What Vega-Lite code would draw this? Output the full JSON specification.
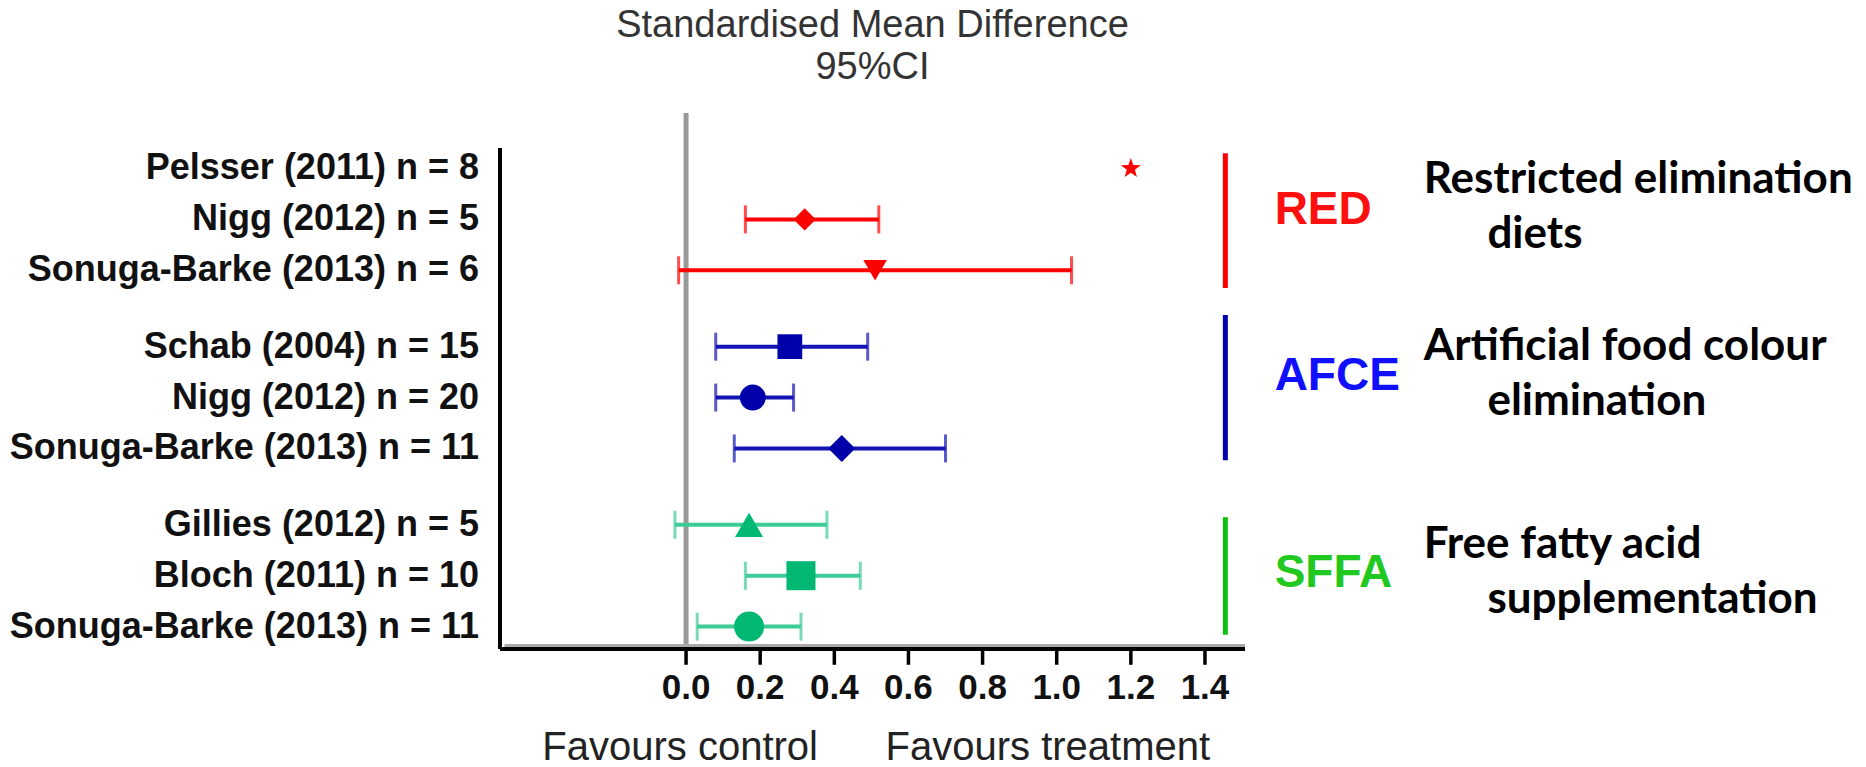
{
  "$schema": "https://vega.github.io/schema/vega-lite/v6.json",
  "width": 745,
  "height": 536,
  "autosize": {"type": "none"},
  "padding": {"left": 500, "top": 113, "right": 621, "bottom": 118},
  "background": "white",
  "config": {"view": {"stroke": null}, "font": "Liberation Sans"},
  "title": {
    "text": ["Standardised Mean Difference", "95%CI"],
    "fontSize": 38,
    "font": "Liberation Sans",
    "fontWeight": "normal",
    "color": "#333333",
    "lineHeight": 42,
    "anchor": "middle",
    "offset": 24
  },
  "datasets": {
    "studies": [
      {"study": "Pelsser (2011) n = 8", "group": "RED", "row": 1, "smd": 1.2, "lo": null, "hi": null},
      {"study": "Nigg (2012) n = 5", "group": "RED", "row": 2, "smd": 0.32, "lo": 0.16, "hi": 0.52},
      {"study": "Sonuga-Barke (2013) n = 6", "group": "RED", "row": 3, "smd": 0.51, "lo": -0.02, "hi": 1.04},
      {"study": "Schab (2004) n = 15", "group": "AFCE", "row": 4.5, "smd": 0.28, "lo": 0.08, "hi": 0.49},
      {"study": "Nigg (2012) n = 20", "group": "AFCE", "row": 5.5, "smd": 0.18, "lo": 0.08, "hi": 0.29},
      {"study": "Sonuga-Barke (2013) n = 11", "group": "AFCE", "row": 6.5, "smd": 0.42, "lo": 0.13, "hi": 0.70},
      {"study": "Gillies (2012) n = 5", "group": "SFFA", "row": 8, "smd": 0.17, "lo": -0.03, "hi": 0.38},
      {"study": "Bloch (2011) n = 10", "group": "SFFA", "row": 9, "smd": 0.31, "lo": 0.16, "hi": 0.47},
      {"study": "Sonuga-Barke (2013) n = 11", "group": "SFFA", "row": 10, "smd": 0.17, "lo": 0.03, "hi": 0.31}
    ],
    "groups": [
      {"group": "RED", "top": 0.7, "bottom": 3.35, "label_row": 1.82},
      {"group": "AFCE", "top": 3.88, "bottom": 6.73, "label_row": 5.08},
      {"group": "SFFA", "top": 7.85, "bottom": 10.16, "label_row": 8.94}
    ],
    "desc": [
      {"group": "RED", "line": 1, "text": "Restricted elimination", "row": 1.49},
      {"group": "RED", "line": 2, "text": "diets", "row": 2.56},
      {"group": "AFCE", "line": 1, "text": "Artificial food colour", "row": 4.76},
      {"group": "AFCE", "line": 2, "text": "elimination", "row": 5.84},
      {"group": "SFFA", "line": 1, "text": "Free fatty acid", "row": 8.65},
      {"group": "SFFA", "line": 2, "text": "supplementation", "row": 9.73}
    ],
    "ticks": [{"v": 0}, {"v": 0.2}, {"v": 0.4}, {"v": 0.6}, {"v": 0.8}, {"v": 1.0}, {"v": 1.2}, {"v": 1.4}],
    "one": [{}]
  },
  "resolve": {"scale": {"color": "independent"}},
  "layer": [
    {
      "data": {"name": "one"},
      "mark": {"type": "rule", "color": "#999999", "strokeWidth": 5},
      "encoding": {
        "x": {"datum": 0, "type": "quantitative", "scale": {"domain": [-0.502, 1.508], "nice": false, "zero": false}, "axis": null}
      }
    },
    {
      "data": {"name": "one"},
      "mark": {"type": "rule", "color": "black", "strokeWidth": 4},
      "encoding": {
        "x": {"datum": -0.502, "type": "quantitative", "axis": null},
        "y": {"datum": 0.6, "type": "quantitative", "scale": {"domain": [-0.09, 10.44], "reverse": true, "nice": false, "zero": false}, "axis": null},
        "y2": {"datum": 10.44}
      }
    },
    {
      "data": {"name": "one"},
      "mark": {"type": "rule", "color": "#aaaaaa", "strokeWidth": 3},
      "encoding": {
        "x": {"datum": -0.49, "type": "quantitative", "axis": null},
        "x2": {"datum": 1.508},
        "y": {"datum": 10.37, "type": "quantitative", "axis": null}
      }
    },
    {
      "data": {"name": "one"},
      "mark": {"type": "rule", "color": "black", "strokeWidth": 4},
      "encoding": {
        "x": {"datum": -0.502, "type": "quantitative", "axis": null},
        "x2": {"datum": 1.508},
        "y": {"datum": 10.44, "type": "quantitative", "axis": null}
      }
    },
    {
      "data": {"name": "ticks"},
      "mark": {"type": "rule", "color": "black", "strokeWidth": 3.5},
      "encoding": {
        "x": {"field": "v", "type": "quantitative", "axis": null},
        "y": {"datum": 10.44, "type": "quantitative", "axis": null},
        "y2": {"datum": 10.75}
      }
    },
    {
      "data": {"name": "ticks"},
      "mark": {"type": "text", "align": "center", "baseline": "middle", "font": "Liberation Sans", "fontWeight": "bold", "fontSize": 35, "color": "#111111"},
      "encoding": {
        "x": {"field": "v", "type": "quantitative", "axis": null},
        "y": {"datum": 11.21, "type": "quantitative", "axis": null},
        "text": {"field": "v", "type": "quantitative", "format": ".1f"}
      }
    },
    {
      "data": {"name": "studies"},
      "transform": [{"filter": "isValid(datum.lo)"}],
      "mark": {"type": "rule", "strokeWidth": 4},
      "encoding": {
        "x": {"field": "lo", "type": "quantitative", "axis": null},
        "x2": {"field": "hi"},
        "y": {"field": "row", "type": "quantitative", "axis": null},
        "color": {"field": "group", "type": "nominal", "scale": {"domain": ["RED", "AFCE", "SFFA"], "range": ["#ff0000", "#1414b4", "#3dcc95"]}, "legend": null}
      }
    },
    {
      "data": {"name": "studies"},
      "transform": [{"filter": "isValid(datum.lo)"}, {"fold": ["lo", "hi"], "as": ["end", "val"]}],
      "mark": {"type": "tick", "orient": "vertical", "thickness": 3, "size": 28},
      "encoding": {
        "x": {"field": "val", "type": "quantitative", "axis": null},
        "y": {"field": "row", "type": "quantitative", "axis": null},
        "color": {"field": "group", "type": "nominal", "scale": {"domain": ["RED", "AFCE", "SFFA"], "range": ["#ff0000", "#1414b4", "#3dcc95"]}, "legend": null}
      }
    },
    {
      "data": {"name": "studies"},
      "mark": {"type": "point", "filled": true, "opacity": 1},
      "encoding": {
        "x": {"field": "smd", "type": "quantitative", "axis": null},
        "y": {"field": "row", "type": "quantitative", "axis": null},
        "shape": {"field": "row", "type": "nominal", "scale": {"domain": [1, 2, 3, 4.5, 5.5, 6.5, 8, 9, 10], "range": ["M0,-1L0.235,-0.324L0.951,-0.309L0.38,0.124L0.588,0.809L0,0.4L-0.588,0.809L-0.38,0.124L-0.951,-0.309L-0.235,-0.324Z", "diamond", "triangle-down", "square", "circle", "diamond", "triangle-up", "square", "circle"]}, "legend": null},
        "size": {"field": "row", "type": "nominal", "scale": {"domain": [1, 2, 3, 4.5, 5.5, 6.5, 8, 9, 10], "range": [440, 900, 800, 810, 700, 600, 560, 450, 480]}, "legend": null},
        "color": {"field": "group", "type": "nominal", "scale": {"domain": ["RED", "AFCE", "SFFA"], "range": ["#ff0000", "#0000aa", "#00b872"]}, "legend": null}
      }
    },
    {
      "data": {"name": "groups"},
      "mark": {"type": "rule", "strokeWidth": 5},
      "encoding": {
        "x": {"datum": 1.455, "type": "quantitative", "axis": null},
        "y": {"field": "top", "type": "quantitative", "axis": null},
        "y2": {"field": "bottom"},
        "color": {"field": "group", "type": "nominal", "scale": {"domain": ["RED", "AFCE", "SFFA"], "range": ["#ff0000", "#0000b0", "#10c010"]}, "legend": null}
      }
    },
    {
      "data": {"name": "groups"},
      "mark": {"type": "text", "align": "left", "baseline": "middle", "font": "Liberation Sans", "fontWeight": "bold", "fontSize": 46},
      "encoding": {
        "x": {"datum": 1.588, "type": "quantitative", "axis": null},
        "y": {"field": "label_row", "type": "quantitative", "axis": null},
        "text": {"field": "group"},
        "color": {"field": "group", "type": "nominal", "scale": {"domain": ["RED", "AFCE", "SFFA"], "range": ["#ff1010", "#1010ff", "#20c820"]}, "legend": null}
      }
    },
    {
      "data": {"name": "studies"},
      "mark": {"type": "text", "align": "right", "baseline": "middle", "font": "Liberation Sans", "fontWeight": "bold", "fontSize": 36, "color": "#111111", "dx": -21},
      "encoding": {
        "x": {"datum": -0.502, "type": "quantitative", "axis": null},
        "y": {"field": "row", "type": "quantitative", "axis": null},
        "text": {"field": "study"}
      }
    },
    {
      "data": {"name": "desc"},
      "transform": [{"filter": "datum.line == 1"}],
      "mark": {"type": "text", "align": "left", "baseline": "alphabetic", "font": "Lato", "fontWeight": "bold", "fontSize": 44, "color": "black"},
      "encoding": {
        "x": {"datum": 1.99, "type": "quantitative", "axis": null},
        "y": {"field": "row", "type": "quantitative", "axis": null},
        "text": {"field": "text"}
      }
    },
    {
      "data": {"name": "desc"},
      "transform": [{"filter": "datum.line == 2"}],
      "mark": {"type": "text", "align": "left", "baseline": "alphabetic", "font": "Lato", "fontWeight": "bold", "fontSize": 44, "color": "black"},
      "encoding": {
        "x": {"datum": 2.162, "type": "quantitative", "axis": null},
        "y": {"field": "row", "type": "quantitative", "axis": null},
        "text": {"field": "text"}
      }
    },
    {
      "data": {"name": "one"},
      "mark": {"type": "text", "align": "center", "baseline": "alphabetic", "font": "Liberation Sans", "fontSize": 40, "color": "#222222"},
      "encoding": {
        "x": {"datum": -0.016, "type": "quantitative", "axis": null},
        "y": {"datum": 12.62, "type": "quantitative", "axis": null},
        "text": {"value": "Favours control"}
      }
    },
    {
      "data": {"name": "one"},
      "mark": {"type": "text", "align": "center", "baseline": "alphabetic", "font": "Liberation Sans", "fontSize": 40, "color": "#222222"},
      "encoding": {
        "x": {"datum": 0.976, "type": "quantitative", "axis": null},
        "y": {"datum": 12.62, "type": "quantitative", "axis": null},
        "text": {"value": "Favours treatment"}
      }
    }
  ]
}
